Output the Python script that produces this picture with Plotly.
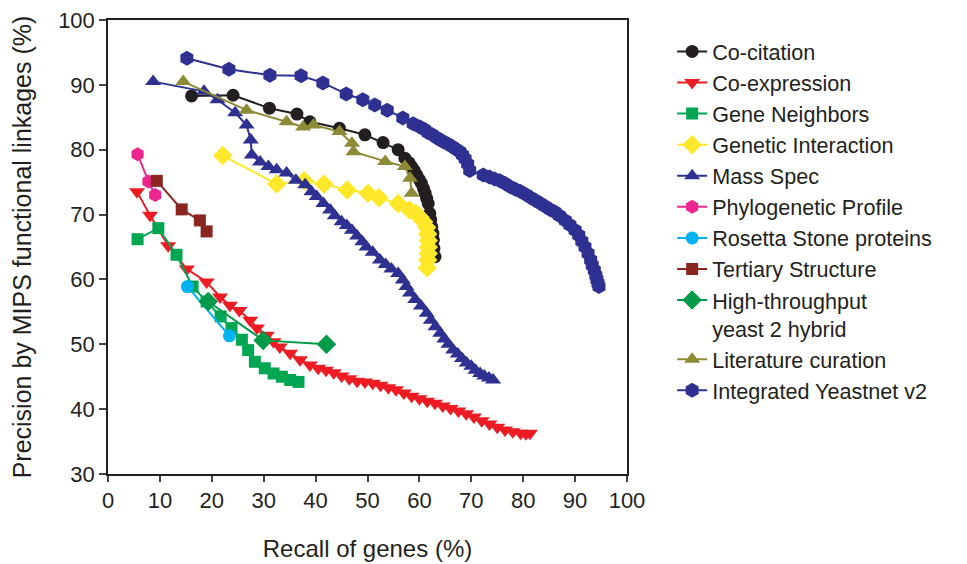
import plotly.graph_objects as go

# ---- data (recall %, precision %) ----
cocit_x = [16.1, 24.1, 31.1, 36.4, 38.9, 44.6, 49.5, 53.0, 55.9, 57.2, 58.0, 58.5, 59.0, 59.5, 60.0, 60.4, 60.8, 61.1, 61.4, 61.7, 62.0, 62.2, 62.4, 62.6, 62.7, 62.8, 63.0]
cocit_y = [88.3, 88.4, 86.4, 85.5, 84.3, 83.3, 82.3, 81.1, 80.0, 78.7, 78.0, 77.4, 76.8, 76.1, 75.4, 74.8, 74.0, 73.3, 72.5, 71.7, 70.2, 69.2, 68.1, 67.1, 66.1, 64.8, 63.5]

coexp_x = [5.6, 8.1, 11.6, 15.2, 19.0, 21.6, 23.5, 25.3, 27.4, 28.7, 30.6, 31.9, 33.1, 35.1, 37.0, 38.9, 40.5, 42.0, 43.5, 45.0, 46.5, 48.0, 49.5, 51.0, 52.5, 54.0, 55.5, 57.0, 58.5, 60.0, 61.5, 63.0, 64.5, 66.0, 67.5, 69.0, 70.5, 72.0, 73.5, 75.0, 76.5, 78.0, 79.5, 80.5, 81.3]
coexp_y = [73.5, 69.9, 65.2, 61.6, 59.6, 57.3, 56.0, 55.2, 53.7, 52.5, 51.4, 50.4, 49.6, 48.6, 47.6, 46.8, 46.3, 46.0, 45.6, 45.1, 44.7, 44.3, 44.2, 44.0, 43.7, 43.3, 43.0, 42.5, 42.0, 41.6, 41.2, 40.9, 40.5, 40.1, 39.7, 39.3, 38.8, 38.2, 37.7, 37.2, 36.8, 36.5, 36.3, 36.2, 36.3]

geneneigh_x = [5.7, 9.7, 13.2, 16.3, 19.0, 21.7, 23.8, 25.8, 27.0, 28.3, 30.2, 31.9, 33.5, 35.1, 36.7]
geneneigh_y = [66.2, 67.9, 63.8, 58.9, 56.6, 54.3, 52.5, 50.7, 49.1, 47.3, 46.3, 45.5, 45.0, 44.5, 44.2]

genetic_x = [22.1, 32.5, 37.8, 41.6, 46.1, 50.1, 52.2, 55.9, 58.1, 59.3, 60.1, 60.8, 61.4, 61.6, 61.7, 61.7, 61.7, 61.6, 61.5]
genetic_y = [79.1, 74.7, 75.2, 74.7, 73.8, 73.3, 72.6, 71.7, 70.7, 70.2, 69.6, 68.9, 68.0, 67.0, 66.0, 65.0, 64.0, 63.0, 61.8]

massspec_x = [8.7, 18.5, 21.1, 24.5, 26.7, 27.5, 27.7, 29.3, 30.9, 32.5, 34.4, 36.2, 38.0, 39.2, 40.2, 41.5, 42.8, 43.7, 45.0, 46.0, 47.0, 48.0, 49.0, 49.8, 51.0, 52.4, 53.5, 54.6, 55.9, 56.8, 57.5, 58.2, 59.2, 60.3, 61.4, 62.2, 63.1, 64.0, 64.8, 65.6, 66.5, 67.4, 68.2, 69.1, 70.0, 70.8, 71.7, 72.5, 73.4, 74.2]
massspec_y = [90.5, 89.0, 87.7, 85.7, 83.8, 81.5, 79.2, 78.1, 77.4, 76.9, 76.4, 75.3, 74.6, 73.5, 72.8, 71.7, 70.7, 69.8, 68.9, 68.3, 67.6, 66.7, 65.8, 65.0, 64.2, 63.0, 62.3, 61.6, 60.9, 59.9, 58.9, 57.9, 56.9, 55.9, 54.8, 53.7, 52.7, 51.7, 50.8, 50.0, 49.1, 48.5, 47.8, 47.1, 46.6, 46.0, 45.5, 45.1, 44.8, 44.5]

phylo_x = [5.7, 7.8, 9.1]
phylo_y = [79.3, 75.1, 73.0]

rosetta_x = [15.3, 23.4]
rosetta_y = [58.9, 51.3]

tertiary_x = [9.4, 14.2, 17.7, 19.0]
tertiary_y = [75.2, 70.8, 69.1, 67.4]

y2h_x = [19.3, 29.9, 42.1]
y2h_y = [56.6, 50.6, 50.0]

litcur_x = [14.5, 26.7, 34.4, 37.6, 39.6, 44.6, 47.0, 47.3, 53.4, 57.2, 58.2, 58.5]
litcur_y = [90.5, 86.1, 84.3, 83.5, 83.8, 82.8, 81.0, 79.7, 78.2, 77.4, 75.6, 73.3]

integ_x = [15.2, 23.3, 31.2, 37.2, 41.4, 45.9, 49.1, 51.4, 53.8, 56.8, 58.8, 60.1, 61.0, 61.7, 62.5, 63.4, 64.1, 64.7, 65.5, 66.3, 67.0, 67.8, 68.3, 68.8, 69.3, 69.7, 72.3, 73.5, 74.5, 75.5, 76.5, 77.5, 78.5, 79.4, 80.5, 81.5, 82.3, 83.2, 84.2, 85.2, 86.1, 87.0, 88.1, 89.0, 90.0, 90.7, 91.3, 91.9, 92.5, 93.0, 93.3, 93.7, 94.0, 94.2, 94.4, 94.6]
integ_y = [94.1, 92.4, 91.5, 91.4, 90.3, 88.6, 87.7, 86.9, 86.1, 84.9, 84.0, 83.5, 83.1, 82.6, 82.3, 81.8, 81.5, 81.2, 80.9, 80.5, 80.1, 79.7, 79.2, 78.6, 77.8, 76.8, 76.1, 75.8, 75.5, 75.2, 74.8, 74.3, 73.9, 73.6, 73.1, 72.6, 72.2, 71.8, 71.3, 70.8, 70.4, 69.8, 69.1, 68.4, 67.6, 66.8, 65.9, 65.0, 64.0, 63.0, 62.2, 61.4, 60.6, 60.0, 59.4, 58.9]

x_ticks = [0, 10, 20, 30, 40, 50, 60, 70, 80, 90, 100]
y_ticks = [30, 40, 50, 60, 70, 80, 90, 100]

series = [
    ("Co-citation", cocit_x, cocit_y, "#231F20", "circle", 13),
    ("Co-expression", coexp_x, coexp_y, "#ED1C24", "triangle-down", 14),
    ("Gene Neighbors", geneneigh_x, geneneigh_y, "#00A651", "square", 12),
    ("Genetic Interaction", genetic_x, genetic_y, "#FFE82A", "diamond", 15),
    ("Mass Spec", massspec_x, massspec_y, "#2E3192", "triangle-up", 14),
    ("Phylogenetic Profile", phylo_x, phylo_y, "#EC268F", "hexagon", 14),
    ("Rosetta Stone proteins", rosetta_x, rosetta_y, "#00B3F0", "circle", 13),
    ("Tertiary Structure", tertiary_x, tertiary_y, "#8B2520", "square", 12),
    ("High-throughput<br>yeast 2 hybrid", y2h_x, y2h_y, "#009A49", "diamond", 15),
    ("Literature curation", litcur_x, litcur_y, "#8C8A35", "triangle-up", 14),
    ("Integrated Yeastnet v2", integ_x, integ_y, "#2E3192", "hexagon", 15),
]

fig = go.Figure()
for name, xs, ys, col, sym, sz in series:
    fig.add_trace(go.Scatter(
        x=xs, y=ys, name=name, mode="lines+markers",
        line=dict(color=col, width=2),
        marker=dict(color=col, symbol=sym, size=sz, line=dict(width=0)),
        cliponaxis=False,
    ))

axis_font = dict(family="Liberation Sans, Arial, sans-serif", size=22, color="#231F20")
# the page body adds an 8px offset, so the figure is sized/margined to compensate
fig.update_layout(
    width=959, height=556,
    margin=dict(l=100, r=340, t=12, b=90, autoexpand=False),
    paper_bgcolor="white", plot_bgcolor="white",
    font=dict(family="Liberation Sans, Arial, sans-serif", color="#231F20"),
    xaxis=dict(
        range=[0, 100], tickvals=x_ticks, ticks="outside", ticklen=6, tickwidth=1.5,
        showline=True, linecolor="#231F20", linewidth=1.5, mirror=True,
        showgrid=False, zeroline=False, tickfont=axis_font, automargin=False,
        ticklabeloverflow="allow",
        title=dict(text="Recall of genes (%)", font=dict(size=24, color="#231F20"), standoff=28),
    ),
    yaxis=dict(
        range=[30, 100], tickvals=y_ticks, ticks="outside", ticklen=7, tickwidth=1.5,
        showline=True, linecolor="#231F20", linewidth=1.5, mirror=True,
        showgrid=False, zeroline=False, tickfont=axis_font, automargin=False,
        ticklabeloverflow="allow",
        title=dict(text="Precision by MIPS functional linkages (%)", font=dict(size=25, color="#231F20"), standoff=20),
    ),
    legend=dict(
        x=1.087, y=0.976, xanchor="left", yanchor="top",
        font=dict(size=21.6, color="#231F20"),
        bgcolor="rgba(0,0,0,0)", valign="top", tracegroupgap=0,
    ),
)

fig.write_html("out.html")
